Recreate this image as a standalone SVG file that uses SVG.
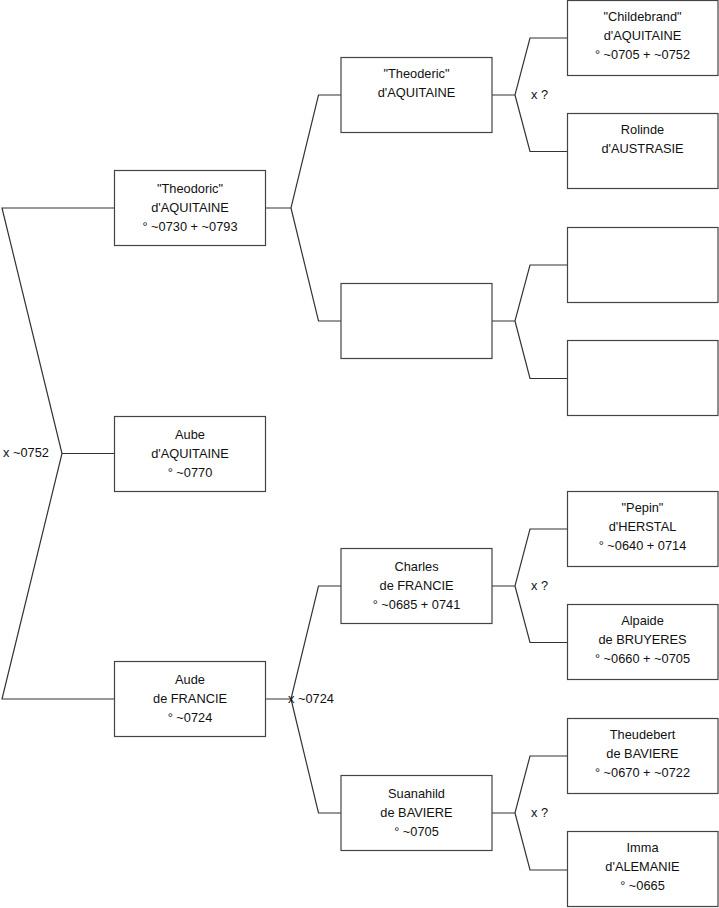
<svg xmlns="http://www.w3.org/2000/svg" width="719" height="908" viewBox="0 0 719 908">
<style>
.box{fill:#fff;stroke:#444;stroke-width:1.2}
.ln{fill:none;stroke:#333;stroke-width:1.2}
text{font-family:"Liberation Sans",Arial,sans-serif;font-size:12.8px;fill:#111}
.c{text-anchor:middle}
</style>
<rect width="719" height="908" fill="#fff"/>
<g id="connectors">
<path class="ln" d="M114.5,208 H2 L62,453.5 L2,699 H114.5 M62,453.5 H114.5"/>
<path class="ln" d="M265,208 H291 L318.5,95 H341 M291,208 L318.5,321 H341"/>
<path class="ln" d="M265,699 H291 L318.5,586 H341 M291,699 L318.5,813 H341"/>
<path class="ln" d="M491,95 H515 L530,38 H567 M515,95 L530,151.5 H567"/>
<path class="ln" d="M491,321 H515 L530,265 H567 M515,321 L530,378.5 H567"/>
<path class="ln" d="M491,586 H515 L530,529 H567 M515,586 L530,642.5 H567"/>
<path class="ln" d="M491,813 H515 L530,756 H567 M515,813 L530,870 H567"/>
<text x="3" y="457">x ~0752</text>
<text x="288" y="703">x ~0724</text>
<text x="531" y="99">x ?</text>
<text x="531" y="590">x ?</text>
<text x="531" y="817">x ?</text>
</g>
<g id="n_theodoric">
<rect class="box" x="114.5" y="170.5" width="151" height="75"/>
<text class="c" x="190" y="193">"Theodoric"</text>
<text class="c" x="190" y="212">d'AQUITAINE</text>
<text class="c" x="190" y="231">° ~0730 + ~0793</text>
</g>
<g id="n_aube">
<rect class="box" x="114.5" y="416.5" width="151" height="75"/>
<text class="c" x="190" y="439">Aube</text>
<text class="c" x="190" y="458">d'AQUITAINE</text>
<text class="c" x="190" y="477">° ~0770</text>
</g>
<g id="n_aude">
<rect class="box" x="114.5" y="661.5" width="151" height="75"/>
<text class="c" x="190" y="684">Aude</text>
<text class="c" x="190" y="703">de FRANCIE</text>
<text class="c" x="190" y="722">° ~0724</text>
</g>
<g id="n_theoderic">
<rect class="box" x="341" y="57.5" width="151" height="75"/>
<text class="c" x="416.5" y="78">"Theoderic"</text>
<text class="c" x="416.5" y="97">d'AQUITAINE</text>
</g>
<g id="n_blank">
<rect class="box" x="341" y="283.5" width="151" height="75"/>
</g>
<g id="n_charles">
<rect class="box" x="341" y="548.5" width="151" height="75"/>
<text class="c" x="416.5" y="571">Charles</text>
<text class="c" x="416.5" y="590">de FRANCIE</text>
<text class="c" x="416.5" y="609">° ~0685 + 0741</text>
</g>
<g id="n_suanahild">
<rect class="box" x="341" y="775.5" width="151" height="75"/>
<text class="c" x="416.5" y="798">Suanahild</text>
<text class="c" x="416.5" y="817">de BAVIERE</text>
<text class="c" x="416.5" y="836">° ~0705</text>
</g>
<g id="n_childebrand">
<rect class="box" x="567.5" y="0.5" width="150.5" height="75"/>
<text class="c" x="642.5" y="21">"Childebrand"</text>
<text class="c" x="642.5" y="40">d'AQUITAINE</text>
<text class="c" x="642.5" y="59">° ~0705 + ~0752</text>
</g>
<g id="n_rolinde">
<rect class="box" x="567.5" y="113.5" width="150.5" height="75"/>
<text class="c" x="642.5" y="134">Rolinde</text>
<text class="c" x="642.5" y="153">d'AUSTRASIE</text>
</g>
<g id="n_blank2">
<rect class="box" x="567.5" y="227.5" width="150.5" height="75"/>
</g>
<g id="n_blank3">
<rect class="box" x="567.5" y="340.5" width="150.5" height="75"/>
</g>
<g id="n_pepin">
<rect class="box" x="567.5" y="491.5" width="150.5" height="75"/>
<text class="c" x="642.5" y="512">"Pepin"</text>
<text class="c" x="642.5" y="531">d'HERSTAL</text>
<text class="c" x="642.5" y="550">° ~0640 + 0714</text>
</g>
<g id="n_alpaide">
<rect class="box" x="567.5" y="604.5" width="150.5" height="75"/>
<text class="c" x="642.5" y="625">Alpaide</text>
<text class="c" x="642.5" y="644">de BRUYERES</text>
<text class="c" x="642.5" y="663">° ~0660 + ~0705</text>
</g>
<g id="n_theudebert">
<rect class="box" x="567.5" y="718.5" width="150.5" height="75"/>
<text class="c" x="642.5" y="739">Theudebert</text>
<text class="c" x="642.5" y="758">de BAVIERE</text>
<text class="c" x="642.5" y="777">° ~0670 + ~0722</text>
</g>
<g id="n_imma">
<rect class="box" x="567.5" y="831.5" width="150.5" height="75"/>
<text class="c" x="642.5" y="852">Imma</text>
<text class="c" x="642.5" y="871">d'ALEMANIE</text>
<text class="c" x="642.5" y="890">° ~0665</text>
</g>
</svg>
